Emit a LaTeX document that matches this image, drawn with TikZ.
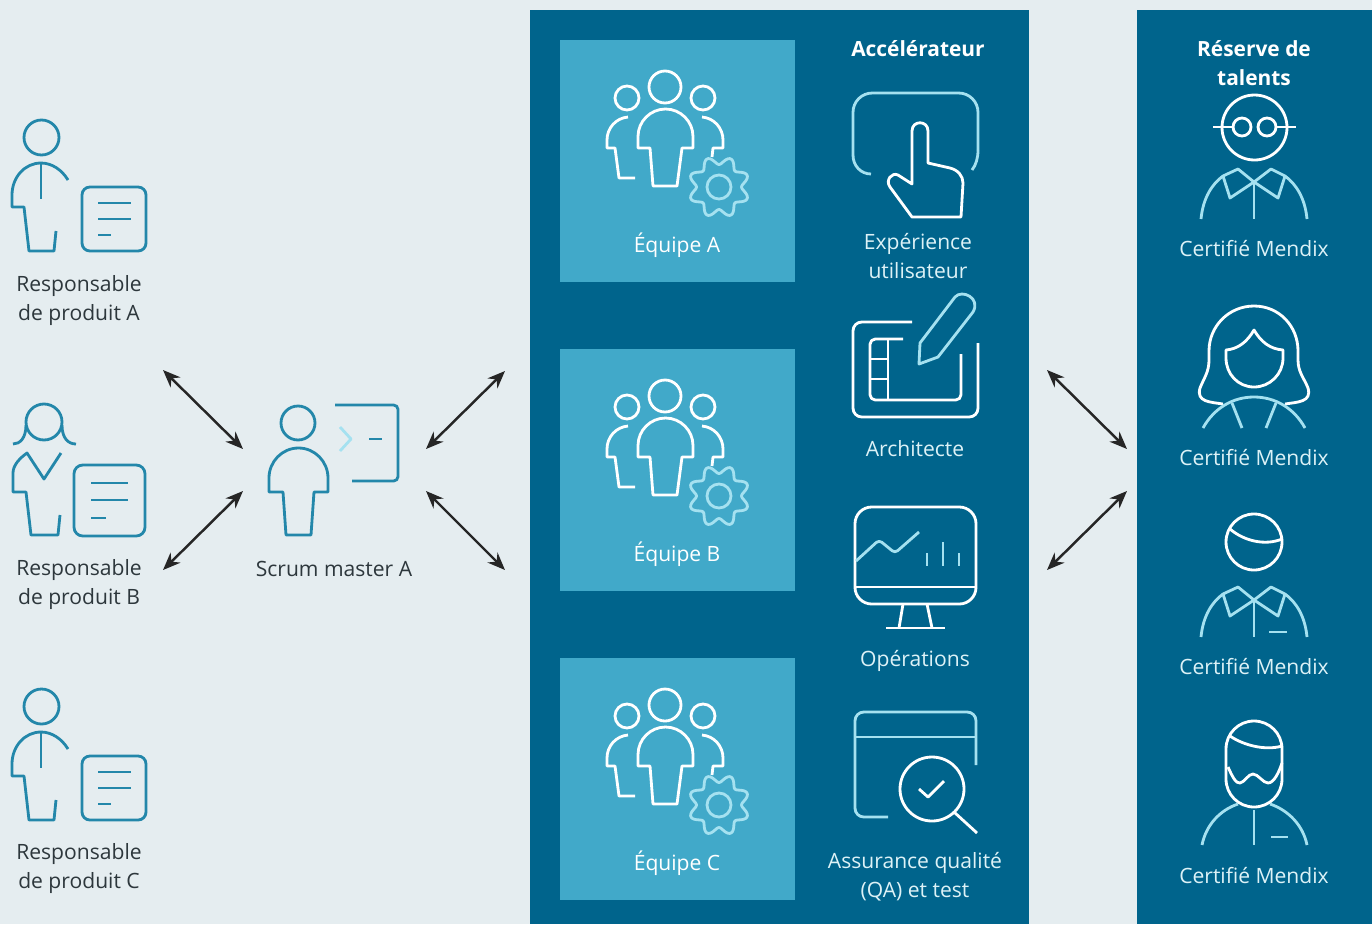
\documentclass[tikz,border=0pt]{standalone}
\usepackage{fontspec}
\setmainfont{Open Sans}
\usetikzlibrary{arrows.meta}
\definecolor{pagebg}{HTML}{E5EDF0}
\definecolor{paneldark}{HTML}{00648C}
\definecolor{teambox}{HTML}{41A9C9}
\definecolor{iconteal}{HTML}{2387AA}
\definecolor{iconlight}{HTML}{A5E1F0}
\definecolor{textdark}{HTML}{2D373C}
\definecolor{textlight}{HTML}{DDF2F7}
\tikzset{
 labeldark/.style={text=textdark,align=center,font=\fontsize{12}{16.5}\selectfont},
 labellight/.style={text=textlight,align=center,font=\fontsize{12}{16.5}\selectfont},
 labelhead/.style={text=white,align=center,font=\fontsize{11.9}{16.5}\selectfont\bfseries},
 tealline/.style={draw=iconteal,line width=1.6pt,line join=round},
 whiteline/.style={draw=white,line width=1.6pt,line join=round},
 lightline/.style={draw=iconlight,line width=1.6pt,line join=round},
 twoway/.style={{Stealth[length=10pt,width=8pt]}-{Stealth[length=10pt,width=8pt]},draw=black!85,line width=1.4pt}
}
% man with sheet, #1 = vertical shift
\newcommand{\ownericon}[1]{
 \begin{scope}[shift={(0,#1)}]
 \draw[tealline](41.5,137.5) circle [radius=17.5];
 \draw[tealline](68,180) .. controls (62,170) and (52,163) .. (41,163) .. controls (25,163) and (12,177) .. (12,195) -- (12,207) -- (24,207) -- (29,251) -- (54,251) -- (56,231);
 \draw[tealline](41,163) -- (41,199);
 \draw[tealline,rounded corners=4.5pt](82,187) rectangle (146,251);
 \draw[tealline](98,203) -- (131,203);
 \draw[tealline](98,219) -- (131,219);
 \draw[tealline](98,235) -- (111,235);
 \end{scope}
}
% shirt with collar, #1 = vertical shift
\newcommand{\shirticon}[1]{
 \begin{scope}[shift={(0,#1)}]
 \draw[lightline](1201,219) .. controls (1203,198) and (1212,184) .. (1223,176);
 \draw[lightline](1285,176) .. controls (1296,184) and (1305,198) .. (1307,219);
 \draw[lightline](1254,182) -- (1230,198) -- (1223,176) -- (1238,169) -- (1254,182) -- (1271,169) -- (1285,176) -- (1278,198) -- cycle;
 \draw[lightline](1254,182) -- (1254,219);
 \end{scope}
}
\begin{document}
\begin{tikzpicture}[x=0.02cm,y=-0.02cm]
 \useasboundingbox (0,0) rectangle (1372,924);
 \fill[pagebg](0,0) rectangle (1372,924);
 \fill[paneldark](530,10) rectangle (1029,924);
 \fill[paneldark](1137,10) rectangle (1372,924);
 % teams
 \foreach \dy/\teamname in {0/A,309/B,618/C}{
 \begin{scope}[shift={(0,\dy)}]
 \fill[teambox](560,40) rectangle (795,282);
 \draw[whiteline](665,87) circle [radius=16];
 \draw[whiteline](627,98) circle [radius=12];
 \draw[whiteline](703,98) circle [radius=12];
 \draw[whiteline](638,148) -- (638,136.5) .. controls (638,121.4) and (650.4,109) .. (665.5,109) .. controls (680.6,109) and (693,121.4) .. (693,136.5) -- (693,148) -- (682,148) -- (677,186) -- (653,186) -- (650,148) -- cycle;
 \draw[whiteline](628,117) .. controls (616,118) and (607,128) .. (607,140) -- (607,148) -- (615,148) -- (619,178) -- (635,178);
 \draw[whiteline](702,117) .. controls (714,118) and (723,128) .. (723,140) -- (723,148) -- (713,148) -- (712,157);
 \draw[lightline](719,187) circle [radius=12];
 \draw[lightline] plot[domain=0:360,samples=121,smooth] ({719+(26.5-4*cos(8*\x))*cos(\x)},{187+(26.5-4*cos(8*\x))*sin(\x)}) -- cycle;
 \node[labellight,text=white] (team\teamname) at (677,245) {Équipe \teamname};
 \end{scope}
 }
 % product owners
 \ownericon{0}
 \ownericon{569}
 \draw[tealline](44,422) circle [radius=18];
 \draw[tealline](26,425) .. controls (26,438) and (20,444) .. (13,444);
 \draw[tealline](62,425) .. controls (62,438) and (68,444) .. (76,444);
 \draw[tealline](60,515) -- (58,535) -- (31,535) -- (26,492) -- (13,492) -- (13,473) .. controls (13,465) and (20,458) .. (27,453) -- (44,479) -- (61,453);
 \draw[tealline,rounded corners=5pt](74,465) rectangle (145,536);
 \draw[tealline](91,483) -- (128,483);
 \draw[tealline](91,500) -- (128,500);
 \draw[tealline](91,518) -- (106,518);
 \node[labeldark] (ownerA) at (79,300.5) {Responsable\\de produit A};
 \node[labeldark] (ownerB) at (79,585) {Responsable\\de produit B};
 \node[labeldark] (ownerC) at (79,869) {Responsable\\de produit C};
 % scrum master
 \draw[tealline](298,423) circle [radius=17];
 \draw[tealline](269,492) -- (269,478) .. controls (269,461.7) and (282,448) .. (298.5,448) .. controls (315,448) and (328,461.7) .. (328,478) -- (328,492) -- (314,492) -- (311,535) -- (286,535) -- (283,492) -- cycle;
 \draw[tealline,rounded corners=2.5pt](335,405) -- (398,405) -- (398,481) -- (352,481);
 \draw[tealline](369,439) -- (382,439);
 \draw[lightline](340,427) -- (351,439) -- (340,451);
 \node[labeldark] (scrumA) at (334,569) {Scrum master A};
 % accelerator
 \node[labelhead] (accel) at (918,49) {Accélérateur};
 \draw[lightline,rounded corners=11pt](853,155) -- (853,93) -- (978,93) -- (978,150);
 \draw[lightline](871,174) .. controls (861,174) and (853,166) .. (853,155);
 \draw[lightline](978,150) .. controls (978,158) and (976,165) .. (972,170);
 \draw[whiteline](912,184) -- (912,131) .. controls (912,120) and (928,120) .. (928,131) -- (928,163) -- (950,168) .. controls (958,170) and (963,176) .. (963,183) -- (961,217) -- (912,217) -- (890,187) .. controls (885,180) and (892,172) .. (898,175) -- cycle;
 \node[labellight] (uxlabel) at (918,256) {Expérience\\utilisateur};
 \draw[whiteline,rounded corners=5pt](912,322) -- (853,322) -- (853,417) -- (978,417) -- (978,343);
 \draw[whiteline,rounded corners=3pt](903,339) -- (870,339) -- (870,400) -- (961,400) -- (961,354);
 \draw[whiteline](888,339) -- (888,400);
 \draw[whiteline](870,359) -- (888,359);
 \draw[whiteline](870,379) -- (888,379);
 \draw[lightline](919,364) -- (920,343) -- (955,297) .. controls (962,289) and (981,298) .. (973,312) -- (938,357) -- cycle;
 \node[labellight] (archlabel) at (915,449) {Architecte};
 \draw[whiteline,rounded corners=9.5pt](855,507) rectangle (976,604);
 \draw[whiteline](855,587) -- (976,587);
 \draw[whiteline](903,604) -- (899,628);
 \draw[whiteline](927,604) -- (932,628);
 \draw[whiteline](886,628) -- (945,628);
 \draw[lightline,rounded corners=2pt](856,561) -- (879,540) -- (895,553) -- (919,532);
 \draw[lightline](927,553) -- (927,566);
 \draw[lightline](943,542) -- (943,566);
 \draw[lightline](959,553) -- (959,566);
 \node[labellight] (opslabel) at (915,661) {Opérations};
 \draw[lightline,rounded corners=5pt](976,765) -- (976,712) -- (855,712) -- (855,817) -- (888,817);
 \draw[lightline](855,737) -- (976,737);
 \draw[whiteline](932,789) circle [radius=32];
 \draw[whiteline](954,812) -- (977,833);
 \draw[whiteline](919,789) -- (928,797) -- (944,781);
 \node[labellight] (qalabel) at (915,877) {Assurance qualité\\(QA) et test};
 % talent pool
 \node[labelhead] (pool) at (1254,63.5) {Réserve de\\talents};
 \draw[whiteline](1254.5,127.5) circle [radius=32.5];
 \draw[whiteline](1242,127) circle [radius=9];
 \draw[whiteline](1267,127) circle [radius=9];
 \draw[whiteline](1213,127) -- (1233,127);
 \draw[whiteline](1276,127) -- (1296,127);
 \shirticon{0}
 \node[labellight] (certA) at (1254,249) {Certifié Mendix};
 \draw[whiteline](1223,404) .. controls (1210,402) and (1196,402) .. (1200,388) .. controls (1204,378) and (1209,372) .. (1209,360) -- (1209,351) .. controls (1209,326) and (1229,306) .. (1254,306) .. controls (1279,306) and (1298,326) .. (1298,351) -- (1298,360) .. controls (1298,372) and (1304,378) .. (1308,388) .. controls (1312,402) and (1298,402) .. (1285,404);
 \draw[whiteline](1254,330) .. controls (1247,342) and (1238,349) .. (1226,350) -- (1226,358) .. controls (1226,374) and (1238,387) .. (1254,387) .. controls (1270,387) and (1283,374) .. (1283,358) -- (1283,350) .. controls (1270,349) and (1261,342) .. (1254,330) -- cycle;
 \draw[lightline](1203,428) .. controls (1214,408) and (1233,397) .. (1254,397) .. controls (1275,397) and (1294,408) .. (1305,428);
 \draw[lightline](1232,403) -- (1242,428);
 \draw[lightline](1276,403) -- (1266,428);
 \node[labellight] (certB) at (1254,458) {Certifié Mendix};
 \draw[whiteline](1254,542) circle [radius=28];
 \draw[whiteline](1230,529) .. controls (1244,541) and (1265,546) .. (1282,539);
 \shirticon{418}
 \draw[lightline](1269,632) -- (1287,632);
 \node[labellight] (certC) at (1254,667) {Certifié Mendix};
 \draw[whiteline](1226,749) .. controls (1226,733.5) and (1238.5,721) .. (1254,721) .. controls (1269.5,721) and (1282,733.5) .. (1282,749) -- (1282,779) .. controls (1282,794.5) and (1269.5,807) .. (1254,807) .. controls (1238.5,807) and (1226,794.5) .. (1226,779) -- cycle;
 \draw[whiteline](1230,736) .. controls (1243,745) and (1265,751) .. (1282,746);
 \draw[whiteline](1228,767) .. controls (1232,776) and (1236,784) .. (1240,783) .. controls (1245,782) and (1248,774) .. (1253,774) .. controls (1258,774) and (1263,783) .. (1268,783) .. controls (1274,783) and (1279,772) .. (1282,763);
 \draw[lightline](1202,845) .. controls (1206,825) and (1220,810) .. (1238,804);
 \draw[lightline](1270,804) .. controls (1288,810) and (1303,825) .. (1307,845);
 \draw[lightline](1254,810) -- (1254,845);
 \draw[lightline](1271,837) -- (1288,837);
 \node[labellight] (certD) at (1254,876) {Certifié Mendix};
 % arrows
 \coordinate (ownerTop) at (163,370);
 \coordinate (ownerBot) at (163,570);
 \coordinate (scrumInTop) at (243,449);
 \coordinate (scrumInBot) at (243,491);
 \coordinate (scrumOutTop) at (426,449);
 \coordinate (scrumOutBot) at (426,491);
 \coordinate (teamsTop) at (505,371);
 \coordinate (teamsBot) at (505,570);
 \coordinate (accelTop) at (1047,370);
 \coordinate (accelBot) at (1047,570);
 \coordinate (poolTop) at (1127,449);
 \coordinate (poolBot) at (1127,491);
 \draw[twoway](ownerTop) -- (scrumInTop);
 \draw[twoway](ownerBot) -- (scrumInBot);
 \draw[twoway](scrumOutTop) -- (teamsTop);
 \draw[twoway](scrumOutBot) -- (teamsBot);
 \draw[twoway](accelTop) -- (poolTop);
 \draw[twoway](accelBot) -- (poolBot);
\end{tikzpicture}
\end{document}
